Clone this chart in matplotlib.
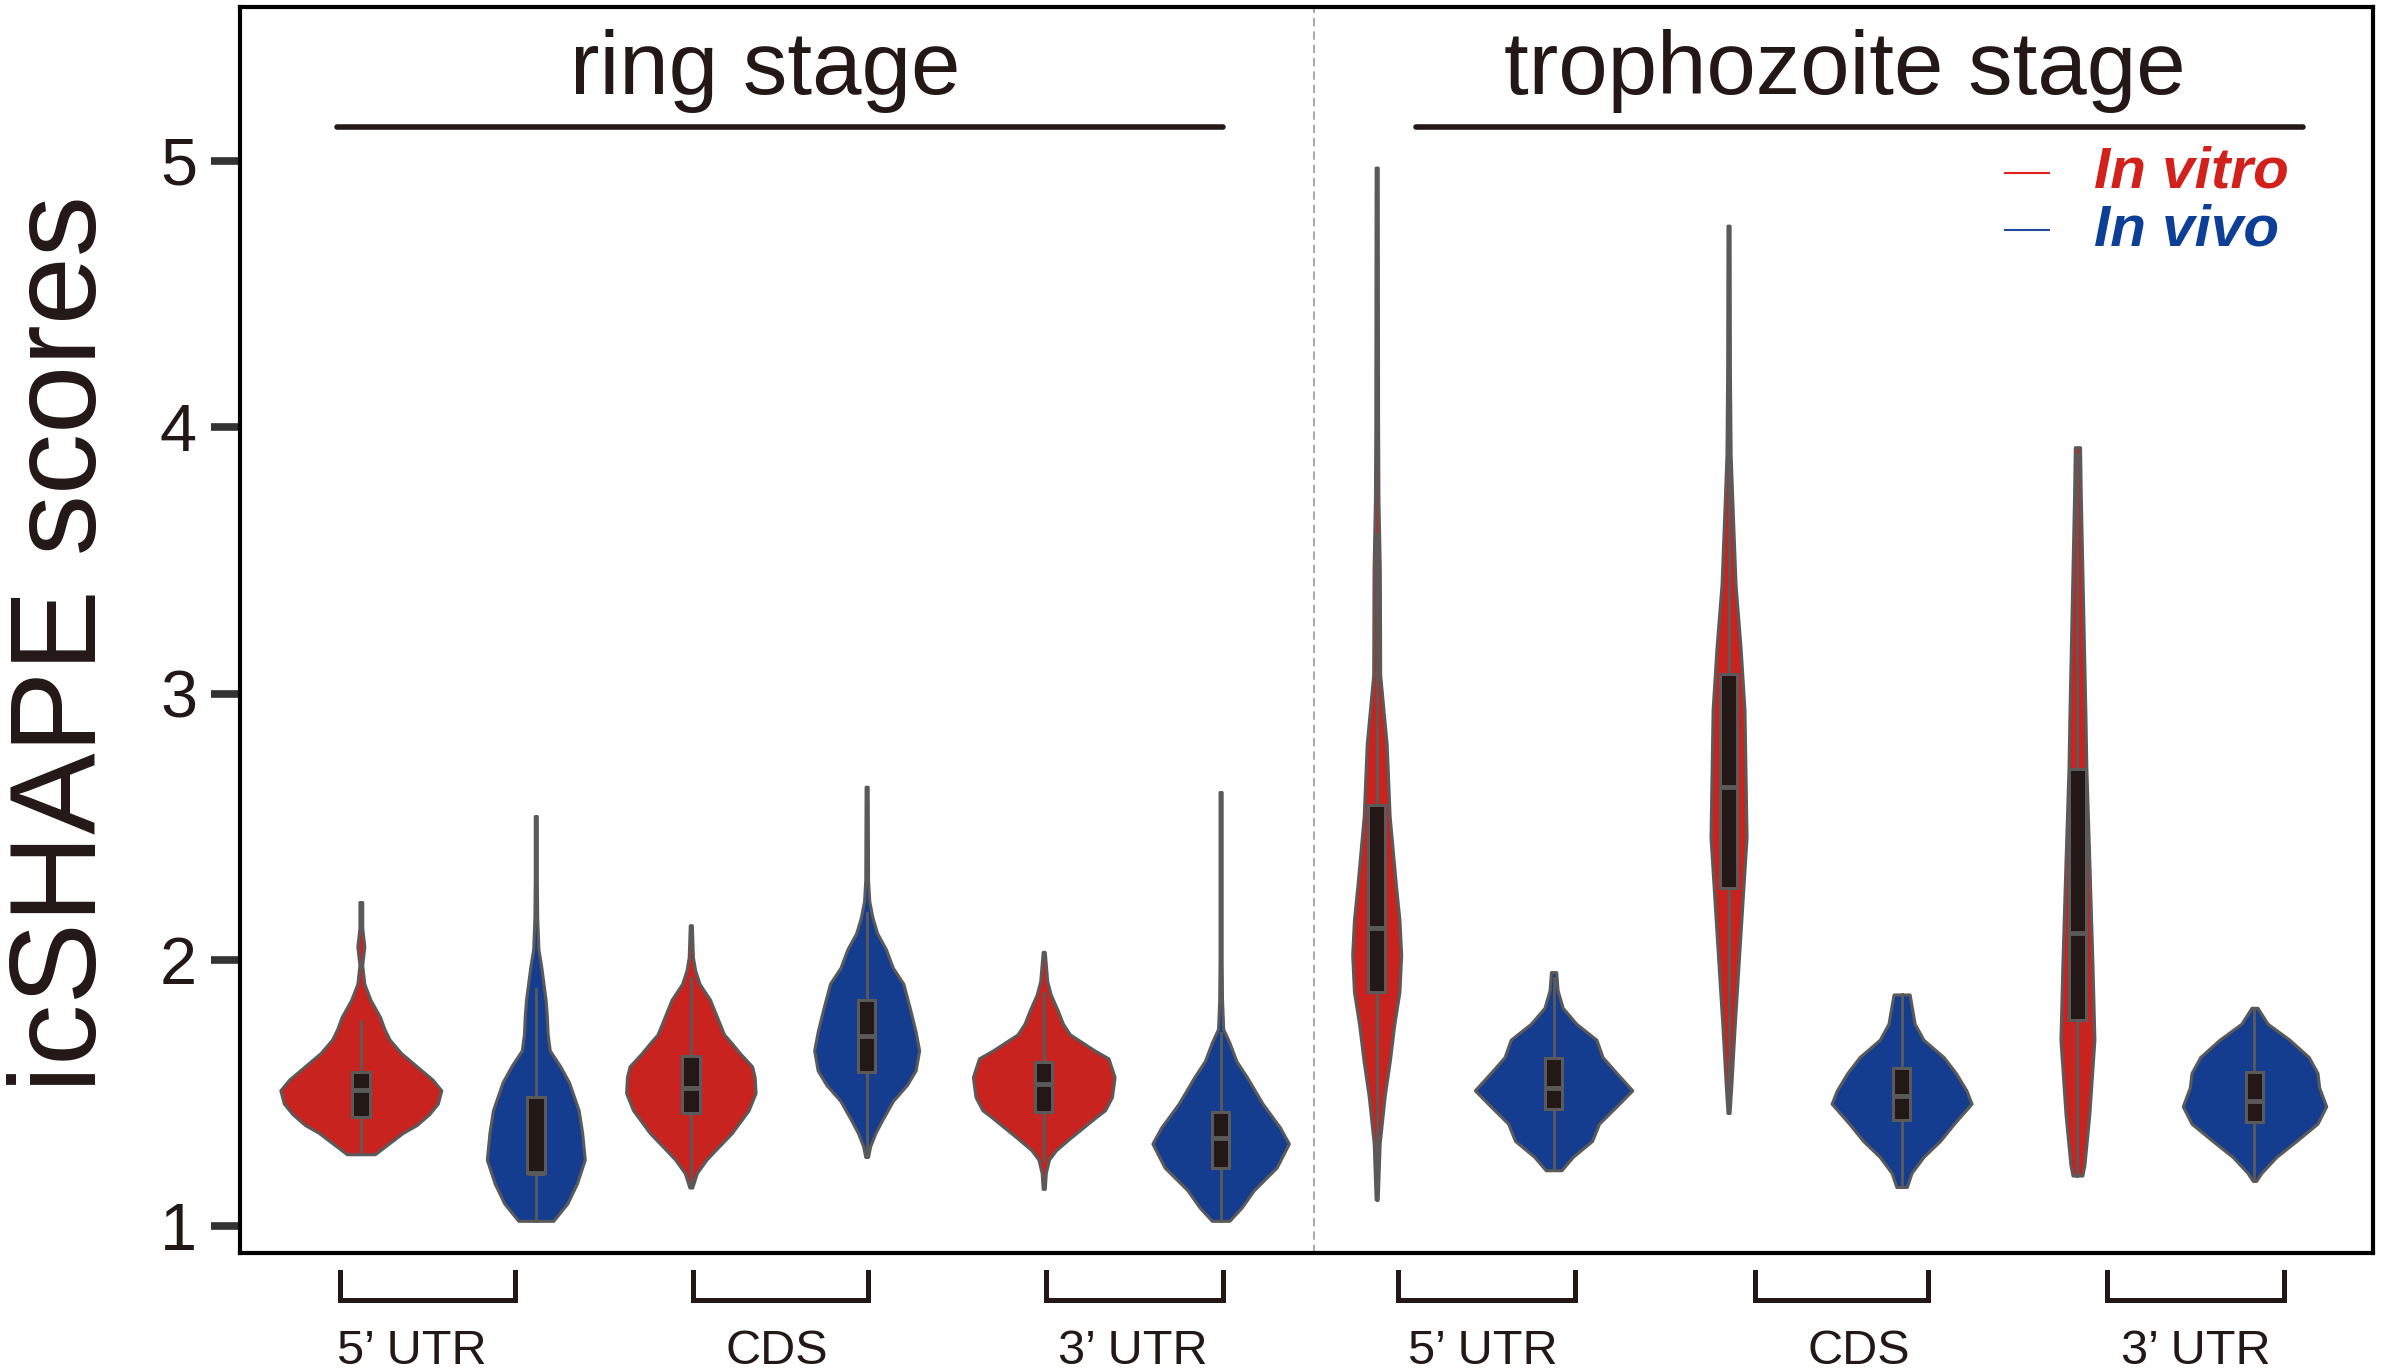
import matplotlib.pyplot as plt
import matplotlib.transforms as mtransforms
from matplotlib.lines import Line2D
import numpy as np

plt.rcParams['font.family'] = ['Liberation Sans', 'DejaVu Sans']

stages = ['ring stage', 'trophozoite stage']
regions = ['5\u2019 UTR', 'CDS', '3\u2019 UTR']
conditions = ['In vitro', 'In vivo']

# violin outlines: (icSHAPE score, half width)
ring_5utr_vitro = [(1.27, 0.08), (1.31, 0.16), (1.35, 0.24), (1.38, 0.32), (1.42, 0.39),
                   (1.46, 0.44), (1.51, 0.46), (1.55, 0.41), (1.60, 0.32), (1.65, 0.23),
                   (1.70, 0.165), (1.74, 0.135), (1.785, 0.11), (1.85, 0.055), (1.91, 0.02),
                   (1.98, 0.008), (2.05, 0.02), (2.12, 0.008), (2.217, 0.008)]
ring_5utr_vivo = [(1.02, 0.10), (1.085, 0.18), (1.16, 0.235), (1.25, 0.28), (1.35, 0.265),
                  (1.435, 0.245), (1.54, 0.19), (1.60, 0.14), (1.66, 0.08), (1.72, 0.068),
                  (1.79, 0.063), (1.85, 0.056), (1.91, 0.044), (1.98, 0.03), (2.04, 0.015),
                  (2.16, 0.008), (2.30, 0.006), (2.54, 0.006)]
ring_cds_vitro = [(1.145, 0.008), (1.20, 0.035), (1.25, 0.09), (1.285, 0.14), (1.35, 0.235),
                  (1.435, 0.33), (1.50, 0.37), (1.56, 0.365), (1.60, 0.35), (1.65, 0.28),
                  (1.69, 0.23), (1.72, 0.19), (1.785, 0.15), (1.85, 0.11), (1.91, 0.05),
                  (1.96, 0.025), (2.01, 0.012), (2.13, 0.006)]
ring_cds_vivo = [(1.26, 0.008), (1.30, 0.02), (1.35, 0.05), (1.40, 0.09), (1.47, 0.15),
                 (1.53, 0.23), (1.585, 0.28), (1.66, 0.30), (1.73, 0.28), (1.81, 0.25),
                 (1.91, 0.21), (1.97, 0.15), (2.04, 0.11), (2.10, 0.06), (2.16, 0.033),
                 (2.22, 0.015), (2.30, 0.008), (2.65, 0.006)]
ring_3utr_vitro = [(1.14, 0.006), (1.20, 0.012), (1.25, 0.03), (1.285, 0.07), (1.33, 0.15),
                   (1.41, 0.30), (1.435, 0.35), (1.485, 0.39), (1.56, 0.405), (1.63, 0.37),
                   (1.66, 0.29), (1.72, 0.15), (1.76, 0.11), (1.81, 0.08), (1.87, 0.04),
                   (1.92, 0.02), (2.03, 0.006)]
ring_3utr_vivo = [(1.02, 0.05), (1.07, 0.12), (1.135, 0.19), (1.22, 0.32), (1.31, 0.39),
                  (1.37, 0.34), (1.46, 0.24), (1.56, 0.15), (1.62, 0.09), (1.69, 0.05),
                  (1.74, 0.015), (1.85, 0.008), (2.00, 0.006), (2.63, 0.006)]
troph_5utr_vitro = [(1.10, 0.006), (1.31, 0.017), (1.49, 0.046), (1.62, 0.075), (1.755, 0.10),
                    (1.88, 0.13), (2.02, 0.14), (2.15, 0.13), (2.28, 0.11), (2.54, 0.074),
                    (2.81, 0.057), (3.07, 0.02), (3.46, 0.018), (3.73, 0.01), (4.00, 0.008),
                    (4.975, 0.006)]
troph_5utr_vivo = [(1.21, 0.045), (1.26, 0.11), (1.32, 0.22), (1.385, 0.26), (1.45, 0.36),
                   (1.51, 0.45), (1.575, 0.36), (1.635, 0.28), (1.70, 0.245), (1.76, 0.13),
                   (1.82, 0.052), (1.886, 0.023), (1.954, 0.015)]
troph_cds_vitro = [(1.425, 0.006), (1.54, 0.017), (1.74, 0.034), (1.98, 0.057), (2.22, 0.08),
                   (2.46, 0.103), (2.70, 0.097), (2.94, 0.091), (3.17, 0.069), (3.41, 0.04),
                   (3.70, 0.023), (3.895, 0.012), (4.20, 0.008), (4.757, 0.006)]
troph_cds_vivo = [(1.147, 0.03), (1.20, 0.057), (1.26, 0.125), (1.32, 0.22), (1.385, 0.30),
                  (1.46, 0.40), (1.51, 0.37), (1.575, 0.31), (1.635, 0.24), (1.70, 0.125),
                  (1.76, 0.075), (1.87, 0.046)]
troph_3utr_vitro = [(1.19, 0.028), (1.23, 0.04), (1.42, 0.068), (1.70, 0.097), (1.98, 0.086),
                    (2.35, 0.069), (2.72, 0.051), (2.91, 0.046), (3.28, 0.034), (3.75, 0.019),
                    (3.925, 0.015)]
troph_3utr_vivo = [(1.17, 0.01), (1.20, 0.04), (1.26, 0.125), (1.32, 0.24), (1.385, 0.36),
                   (1.45, 0.41), (1.52, 0.37), (1.575, 0.36), (1.635, 0.31), (1.70, 0.20),
                   (1.76, 0.075), (1.82, 0.017)]

# inner box plots (5'UTR vitro/vivo, CDS vitro/vivo, 3'UTR vitro/vivo)
ring_q1 = [1.41, 1.20, 1.425, 1.58, 1.43, 1.22]
ring_median = [1.51, 1.20, 1.52, 1.715, 1.535, 1.33]
ring_q3 = [1.58, 1.485, 1.64, 1.85, 1.615, 1.43]
ring_whislo = [1.27, 1.02, 1.15, 1.26, 1.25, 1.02]
ring_whishi = [1.77, 1.89, 1.93, 2.175, 1.875, 1.725]
troph_q1 = [1.88, 1.44, 2.27, 1.40, 1.775, 1.39]
troph_median = [2.12, 1.52, 2.65, 1.49, 2.10, 1.47]
troph_q3 = [2.58, 1.63, 3.075, 1.595, 2.715, 1.58]
troph_whislo = [1.10, 1.21, 1.43, 1.15, 1.19, 1.17]
troph_whishi = [3.6, 1.93, 4.2, 1.87, 3.9, 1.82]

profiles = [ring_5utr_vitro, ring_5utr_vivo, ring_cds_vitro, ring_cds_vivo,
            ring_3utr_vitro, ring_3utr_vivo, troph_5utr_vitro, troph_5utr_vivo,
            troph_cds_vitro, troph_cds_vivo, troph_3utr_vitro, troph_3utr_vivo]
q1 = ring_q1 + troph_q1
median = ring_median + troph_median
q3 = ring_q3 + troph_q3
whislo = ring_whislo + troph_whislo
whishi = ring_whishi + troph_whishi

positions = [0, 1, 1.886, 2.891, 3.903, 4.914, 5.806, 6.817, 7.817, 8.806, 9.811, 10.823]
red = '#C8231E'
blue = '#153D8F'
edge = '#5a5a5a'
dark = '#231815'
cond_colors = [red, blue]
colors = [cond_colors[i % 2] for i in range(len(profiles))]

fig = plt.figure(figsize=(23.82, 13.72), dpi=100)
ax = fig.add_axes([0.1008, 0.0867, 0.8954, 0.9082])

vpstats = []
widths = []
for prof, med in zip(profiles, median):
    arr = np.array(prof)
    vpstats.append(dict(coords=arr[:, 0], vals=arr[:, 1], mean=med, median=med,
                        min=arr[0, 0], max=arr[-1, 0]))
    widths.append(2 * arr[:, 1].max())

parts = ax.violin(vpstats, positions=positions, widths=widths, showextrema=False)
for body, col in zip(parts['bodies'], colors):
    body.set_facecolor(col)
    body.set_edgecolor(edge)
    body.set_linewidth(2.2)
    body.set_alpha(1)
    body.set_zorder(2)

bstats = [dict(med=m, q1=a, q3=b, whislo=lo, whishi=hi, fliers=[])
          for m, a, b, lo, hi in zip(median, q1, q3, whislo, whishi)]
ax.bxp(bstats, positions=positions, widths=0.1, patch_artist=True, showfliers=False,
       showcaps=False, manage_ticks=False, zorder=3,
       boxprops=dict(facecolor=dark, edgecolor=edge, linewidth=2.2),
       whiskerprops=dict(color=edge, linewidth=2.0),
       medianprops=dict(color=edge, linewidth=3.5))

ax.set_xlim(-0.69, 11.50)
ax.set_ylim(0.899, 5.578)
ax.set_yticks([1, 2, 3, 4, 5])
ax.tick_params(axis='y', length=21, width=5.5, color='#333333', labelsize=48,
               pad=10, labelcolor=dark)
ax.tick_params(axis='x', bottom=False, labelbottom=False)
for sp in ax.spines.values():
    sp.set_linewidth(3)
    sp.set_color('black')

# divider between stages
ax.axvline(5.45, color='#9a9a9a', lw=1.2, ls=(0, (5, 3)), zorder=1)

# stage titles with rules
title_x = [2.31, 8.48]
rule_x = [(-0.137, 4.93), (6.03, 11.10)]
for name, tx, (x0, x1) in zip(stages, title_x, rule_x):
    ax.text(tx, 5.25, name, ha='center', va='baseline', fontsize=64, color=dark)
    ax.plot([x0, x1], [5.127, 5.127], color=dark, lw=4, solid_capstyle='round')

# region brackets below the axes
trans = mtransforms.blended_transform_factory(ax.transData, fig.transFigure)
shifts = [-0.12, 0.01, 0.015, 0.12, 0.15, 0.17]
label_shifts = [-0.09, -0.02, -0.01, -0.02, 0.1, 0.0]
for k in range(6):
    xa = positions[2 * k] + shifts[k]
    xb = positions[2 * k + 1] + shifts[k]
    ax.add_line(Line2D([xa, xa, xb, xb], [0.0729, 0.0525, 0.0525, 0.0729],
                       transform=trans, color=dark, lw=3.6, clip_on=False,
                       solid_joinstyle='miter'))
    fig.text((xa + xb) / 2 + label_shifts[k], 0.006, regions[k % 3], transform=trans,
             fontsize=35, color=dark, ha='center', va='baseline')

# y label
fig.text(0.027, 0.531, 'icSHAPE scores', rotation=90, ha='center', va='center',
         fontsize=88, color=dark)

# legend
leg_text_colors = ['#D2201C', '#0E3F97']
leg_line_colors = ['#E0231F', '#1E4A9E']
for i, lab in enumerate(conditions):
    ly = 1 - (173 + i * 57) / 1372
    fig.add_artist(Line2D([0.8417, 0.8602], [ly, ly], color=leg_line_colors[i], lw=1.5))
    fig.text(0.879, 1 - (187 + i * 58) / 1372, lab, fontsize=42, fontweight='bold',
             fontstyle='italic', color=leg_text_colors[i], ha='left', va='baseline')

fig.savefig('out.png', dpi=100)
